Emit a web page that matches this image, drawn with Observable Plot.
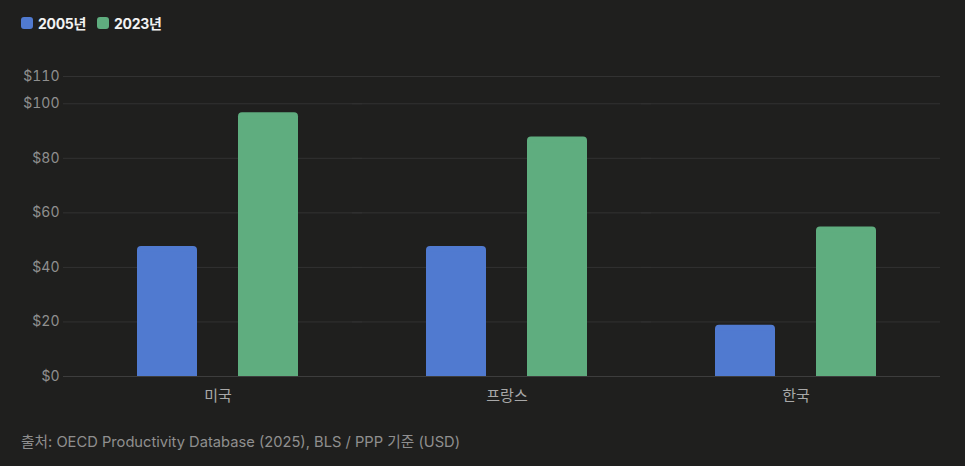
<!DOCTYPE html>
<html><head><meta charset="utf-8">
<script src="https://cdn.jsdelivr.net/npm/d3@7"></script>
<script src="https://cdn.jsdelivr.net/npm/@observablehq/plot@0.6"></script>
<style>
body{margin:0;background:#1f1f1e;width:965px;height:466px;position:relative;overflow:hidden;font-family:Inter,"Noto Sans CJK KR",sans-serif;}
#legend{position:absolute;left:21px;top:13px;display:flex;gap:11px;font-size:14px;font-weight:700;color:#f2f2f2;letter-spacing:-0.3px}
#legend .it{display:flex;align-items:center;gap:5px}
#legend .sw{width:12px;height:12px;border-radius:3px;display:inline-block}
#chart{position:absolute;left:0;top:50px}
#chart g[aria-label="fx-axis tick label"]{font-size:15px;fill:#a8a8a8}
#caption{position:absolute;left:21px;top:430px;font-size:14.7px;color:#8f8f8f;}
</style></head>
<body>
<div id="legend"></div>
<div id="chart"></div>
<div id="caption">출처: OECD Productivity Database (2025), BLS / PPP 기준 (USD)</div>
<script>
const countries = ["미국", "프랑스", "한국"];
const years = ["2005년", "2023년"];
const values2005 = [47.7, 47.7, 18.8];
const values2023 = [96.7, 87.8, 54.8];
const yTicks = [0, 20, 40, 60, 80, 100, 110];
const colors = ["#507ad0", "#5fad7f"];

const rows = [];
countries.forEach((c, i) => {
  rows.push({country: c, year: years[0], value: values2005[i]});
  rows.push({country: c, year: years[1], value: values2023[i]});
});

const legend = document.getElementById("legend");
years.forEach((y, i) => {
  const it = document.createElement("span");
  it.className = "it";
  it.innerHTML = `<span class="sw" style="background:${colors[i]}"></span><span>${y}</span>`;
  legend.appendChild(it);
});

const font = 'Inter, "Noto Sans CJK KR", sans-serif';
const chart = Plot.plot({
  width: 965,
  height: 370,
  marginLeft: 72,
  marginRight: 24,
  marginTop: 26,
  marginBottom: 44,
  style: {background: "transparent", color: "#8f8f8f", fontFamily: font, fontSize: "14px"},
  fx: {domain: countries, paddingInner: 0, paddingOuter: 0, label: null, axis: "bottom", tickSize: 0, tickPadding: 14},
  x: {domain: years, paddingInner: 0.404, paddingOuter: 0.63, axis: null},
  y: {domain: [0, 110], label: null, axis: null},
  color: {domain: years, range: colors},
  marks: [
    Plot.ruleY(yTicks.filter(d => d > 0), {stroke: "#323232", strokeWidth: 1, insetLeft: -10}),
    Plot.axisY({ticks: yTicks, tickFormat: d => "$" + d, tickSize: 0, tickPadding: 14, fill: "#8f8f8f", fontSize: 14}),
    Plot.barY(rows, {fx: "country", x: "year", y: "value", fill: "year", rx: 4}),
    Plot.barY(rows, {fx: "country", x: "year", y: "value", fill: "year", insetTop: 6}),
    Plot.ruleY([0], {stroke: "#3d3d3d", strokeWidth: 1, insetLeft: -10})
  ]
});
document.getElementById("chart").appendChild(chart);
</script>
</body></html>
